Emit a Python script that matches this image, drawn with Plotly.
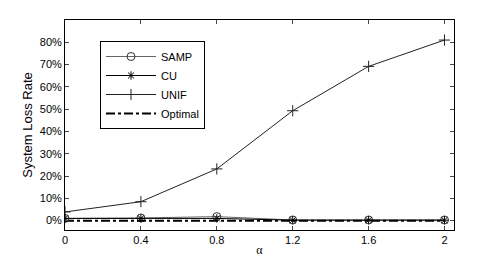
import plotly.graph_objects as go

alpha = [0, 0.4, 0.8, 1.2, 1.6, 2.0]
samp = [0.010, 0.012, 0.018, 0.003, 0.003, 0.003]
cu = [0.010, 0.010, 0.010, 0.002, 0.002, 0.002]
unif = [0.039, 0.085, 0.232, 0.493, 0.692, 0.810]
optimal = [0.0, 0.0, 0.0, 0.0, 0.0, 0.0]

y_ticks = [0, 0.1, 0.2, 0.3, 0.4, 0.5, 0.6, 0.7, 0.8]
y_labels = ["0%", "10%", "20%", "30%", "40%", "50%", "60%", "70%", "80%"]
x_ticks = [0, 0.4, 0.8, 1.2, 1.6, 2]
x_labels = ["0", "0.4", "0.8", "1.2", "1.6", "2"]

fig = go.Figure()
fig.add_trace(go.Scatter(x=alpha, y=samp, name="SAMP", mode="lines+markers",
                         line=dict(color="#666666", width=1),
                         marker=dict(symbol="circle-open", size=8, color="#333333", line=dict(width=1))))
fig.add_trace(go.Scatter(x=alpha, y=cu, name="CU", mode="lines+markers",
                         line=dict(color="black", width=1),
                         marker=dict(symbol="asterisk-open", size=7, color="black", line=dict(width=1))))
fig.add_trace(go.Scatter(x=alpha, y=unif, name="UNIF", mode="lines+markers",
                         line=dict(color="#222222", width=1),
                         marker=dict(symbol="cross-thin-open", size=8, color="#222222", line=dict(width=1))))
fig.add_trace(go.Scatter(x=alpha, y=optimal, name="Optimal", mode="lines",
                         line=dict(color="black", width=2, dash="dashdot")))

# page body has an 8px default margin, so the figure is sized to fit inside it
fig.update_layout(
    template="none",
    width=493, height=254,
    margin=dict(l=57, r=47, t=12, b=32, pad=0),
    paper_bgcolor="white", plot_bgcolor="white",
    font=dict(family="Liberation Sans, Arial, sans-serif", size=11, color="black"),
    showlegend=True,
    legend=dict(x=0.09, y=0.9, xanchor="left", yanchor="top",
                bordercolor="black", borderwidth=1, bgcolor="white",
                font=dict(size=11), tracegroupgap=0, itemwidth=50),
    xaxis=dict(range=[0, 2.05], tickvals=x_ticks, ticktext=x_labels,
               ticks="inside", ticklen=4, mirror="ticks", showline=True,
               linecolor="black", linewidth=1, showgrid=False, zeroline=False,
               automargin=False,
               title=dict(text="α", standoff=0, font=dict(family="Liberation Serif, serif", size=12))),
    yaxis=dict(range=[-0.042, 0.9], tickvals=y_ticks, ticktext=y_labels,
               ticks="inside", ticklen=4, mirror="ticks", showline=True,
               linecolor="black", linewidth=1, showgrid=False, zeroline=False,
               automargin=False, title=dict(text="System Loss Rate", standoff=4)),
)

fig.write_html("out.html")
